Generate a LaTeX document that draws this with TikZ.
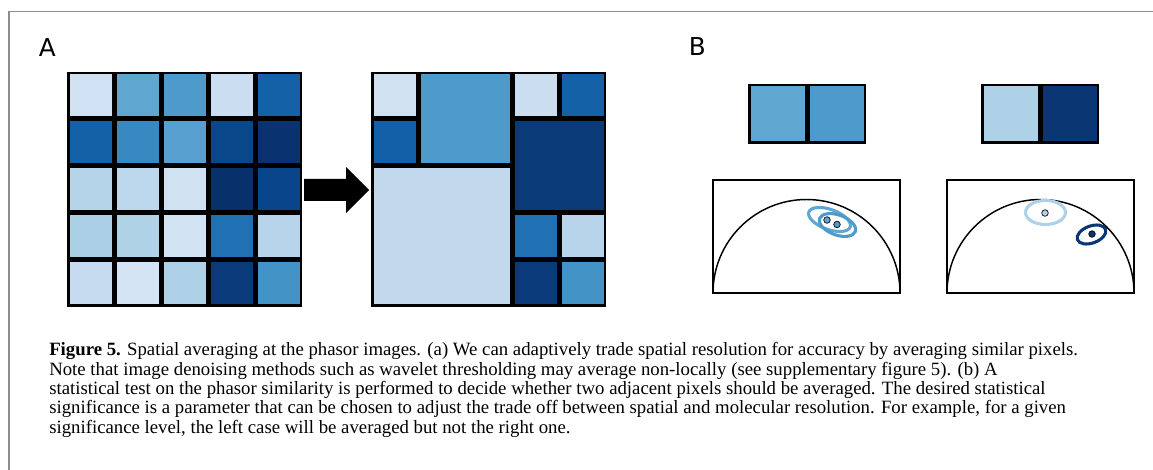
\documentclass[tikz,border=0pt]{standalone}
\usepackage{fontspec}
\setmainfont{Liberation Serif}
\newfontfamily\panelfont{DejaVu Sans}

\definecolor{cA}{HTML}{5FA6D1}
\definecolor{cB}{HTML}{4D9ACB}
\definecolor{cT}{HTML}{AFD1E7}
\definecolor{cX}{HTML}{0A3674}

\begin{document}
\begin{tikzpicture}[x=0.75pt,y=-0.75pt,
    frameline/.style={draw=black!45, line width=1.1pt},
    phasorbox/.style={draw=black, line width=0.8pt},
    cloud/.style={line width=2.3pt},
    dot/.style={draw=black, line width=0.5pt},
    panel/.style={font=\panelfont\fontsize{18.5}{20}\selectfont, inner sep=0pt, anchor=base west}
]
\useasboundingbox (0,0) rectangle (1153,470);

% frame
\draw[frameline] (9,471) -- (9,11.5) -- (1154,11.5);

\node[panel] (labA) at (38.5,57) {A};
\node[panel] (labB) at (688.5,56) {B};

% raw pixels
\fill (67,72) rectangle (302,307);
\foreach \c/\r/\hx in {0/0/CFE1F2, 1/0/5FA6D1, 2/0/4D9ACB, 3/0/CBDEF1, 4/0/1461A8,
                       0/1/1461A8, 1/1/3888C1, 2/1/58A0CF, 3/1/09468A, 4/1/08336E,
                       0/2/B5D4E9, 1/2/BDD7EC, 2/2/D0E1F2, 3/2/08306B, 4/2/09458A,
                       0/3/ABD0E6, 1/3/B0D2E7, 2/3/D2E3F3, 3/3/2070B4, 4/3/B7D4EA,
                       0/4/C6DBEF, 1/4/D4E4F4, 2/4/AFD1E7, 3/4/0A3A7A, 4/4/4493C7}{
  \definecolor{pix}{HTML}{\hx}
  \fill[pix] ({67+47*\c+2.5},{72+47*\r+2.5}) rectangle ++(42,42);
}

\fill (304,179) -- (346,179) -- (346,167) -- (369,190) -- (346,213) -- (346,201) -- (304,201) -- cycle;

% averaged pixels
\fill (371,72) rectangle (606,307);
\foreach \c/\r/\w/\hx in {0/0/1/D0E1F2, 0/1/1/1460A8, 1/0/2/4D9BCB, 3/0/1/CADEF0, 4/0/1/1461A8,
                          3/1/2/0A3A78, 0/2/3/C2D9ED, 3/3/1/2070B4, 4/3/1/B7D4EA,
                          3/4/1/0A3A7A, 4/4/1/4493C7}{
  \definecolor{pix}{HTML}{\hx}
  \fill[pix] ({371+47*\c+2.5},{72+47*\r+2.5}) rectangle ++({47*\w-5},{47*\w-5});
}

% pairs
\foreach \x/\ha/\hb in {748/5FA6D1/4D9ACB, 981/AFD1E7/0A3674}{
  \fill (\x,84) rectangle ++(118,60);
  \definecolor{pa}{HTML}{\ha}
  \definecolor{pb}{HTML}{\hb}
  \fill[pa] (\x+2.5,86.5) rectangle ++(54,55);
  \fill[pb] (\x+61.5,86.5) rectangle ++(54,55);
}

% phasor plots
\foreach \x in {713,947}{
  \draw[phasorbox] (\x,180) rectangle ++(187,113);
  \draw[phasorbox, line width=1.1pt] (\x,293) arc[start angle=180, end angle=360, radius=93.5];
}
\draw[cloud, cA, rotate around={-20:(829.5,219.5)}] (829.5,219.5) ellipse[x radius=22, y radius=10];
\draw[cloud, cB, rotate around={-20:(837.5,225)}] (837.5,225) ellipse[x radius=19, y radius=10];
\filldraw[dot, fill=cA] (827,220) circle (3.3);
\filldraw[dot, fill=cB] (837,224.5) circle (3.3);

\draw[cloud, cT] (1045.5,212.5) ellipse[x radius=20, y radius=12];
\draw[cloud, cX, rotate around={20:(1091.5,234.5)}] (1091.5,234.5) ellipse[x radius=15, y radius=8.5];
\filldraw[dot, fill=cT] (1045,213) circle (3.3);
\filldraw[dot, fill=cX] (1092,234) circle (3.3);

\node[anchor=base west, inner sep=0pt, align=left, font=\fontsize{14.08}{14.44}\selectfont] (cap) at (49,433)
  {\textbf{Figure 5.} Spatial averaging at the phasor images. (a) We can adaptively trade spatial resolution for accuracy by averaging similar pixels.\\
   Note that image denoising methods such as wavelet thresholding may average non-locally (see supplementary figure 5). (b) A\\
   statistical test on the phasor similarity is performed to decide whether two adjacent pixels should be averaged. The desired statistical\\
   significance is a parameter that can be chosen to adjust the trade off between spatial and molecular resolution. For example, for a given\\
   significance level, the left case will be averaged but not the right one.};

\end{tikzpicture}
\end{document}
